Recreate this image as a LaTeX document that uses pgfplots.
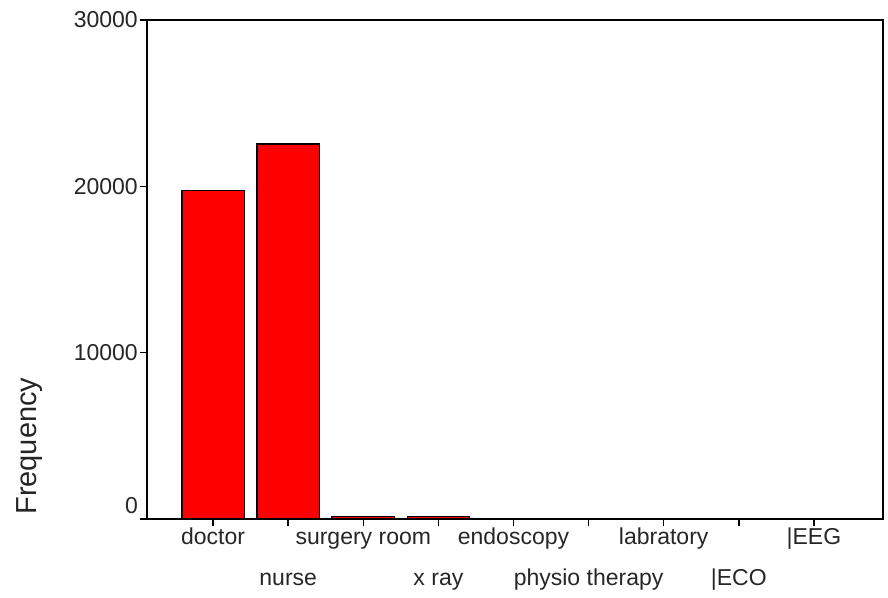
\documentclass[border=0pt]{standalone}
\usepackage{pgfplots}
\pgfplotsset{compat=1.18}
\usepackage{fontspec}
\setmainfont{Liberation Sans}
\begin{document}
\begin{tikzpicture}
\begin{axis}[
  name=ax,
  scale only axis,
  width=736pt, height=499pt,
  xmin=-0.88, xmax=8.92,
  ymin=0, ymax=30000,
  axis line style={black, line width=1.6pt},
  tick style={black, line width=1.4pt},
  major tick length=7pt,
  tick align=outside,
  tick pos=left,
  ytick={0,10000,20000,30000},
  yticklabels={\smash{\raisebox{6pt}{0}},10000,20000,30000},
  scaled y ticks=false,
  /pgf/number format/assume math mode=true,
  yticklabel style={font=\fontsize{23}{27}\selectfont, color=black!85, inner sep=2pt},
  xtick={0,2,4,6,8},
  xticklabels={doctor, surgery room, endoscopy, labratory, \textbar EEG},
  extra x ticks={1,3,5,7},
  extra x tick labels={nurse, x ray, physio therapy, \textbar ECO},
  extra x tick style={tick label style={yshift=-41pt}},
  xticklabel style={font=\fontsize{23}{27}\selectfont, color=black!85, inner sep=0pt, text height=17pt, text depth=5pt, yshift=-1pt},
  ylabel={Frequency},
  ylabel style={font=\fontsize{29}{34}\selectfont, color=black!85, at={(axis description cs:-0.159,0.146)}, anchor=center},
  clip=false,
]
\addplot[ybar, bar width=0.83, fill={rgb,255:red,255;green,0;blue,0}, draw=black, line width=1.3pt]
  coordinates {(0,19740) (1,22550) (2,170) (3,150) (4,0) (5,0) (6,0) (7,0) (8,0)};
\end{axis}
\path ([shift={(-147pt,-78pt)}]ax.south west) rectangle ([shift={(5pt,20pt)}]ax.north east);
\end{tikzpicture}
\end{document}
